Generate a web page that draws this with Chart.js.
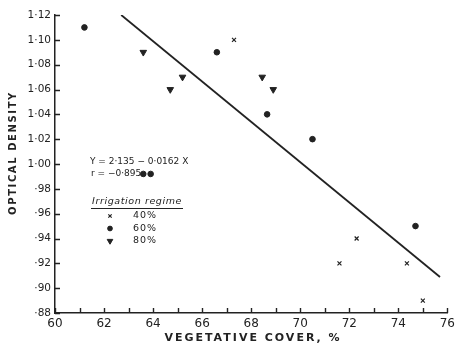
<!DOCTYPE html>
<html><head><meta charset="utf-8">
<script src="https://cdn.jsdelivr.net/npm/chart.js@4"></script>
<style>html,body{margin:0;padding:0;background:#fff}#wrap{width:459px;height:349px}</style>
</head><body><div id="wrap"><canvas id="c" width="459" height="349"></canvas></div>
<script>
// Data
const x40 = [67.3, 72.3, 71.6, 74.35, 75.0];
const y40 = [1.10, 0.94, 0.92, 0.92, 0.89];
const x60 = [61.2, 66.6, 68.65, 70.5, 63.6, 63.9, 74.7];
const y60 = [1.11, 1.09, 1.04, 1.02, 0.992, 0.992, 0.95];
const x80 = [63.6, 64.7, 65.2, 68.45, 68.9];
const y80 = [1.09, 1.06, 1.07, 1.07, 1.06];
const lineX = [62.7, 75.7];
const lineY = [1.12, 0.909];
const xTicks = [60,61,62,63,64,65,66,67,68,69,70,71,72,73,74,75,76];
const xTickLabels = ['60','','62','','64','','66','','68','','70','','72','','74','','76'];
const yTicks = [0.88,0.90,0.92,0.94,0.96,0.98,1.00,1.02,1.04,1.06,1.08,1.10,1.12];
const yTickLabels = ['·88','·90','·92','·94','·96','·98','1·00','1·02','1·04','1·06','1·08','1·10','1·12'];
const eqText = 'Y = 2·135 − 0·0162 X';
const rText = 'r = −0·895';
const legendTitle = 'Irrigation regime';
const legendLabels = ['40%','60%','80%'];

const INK = '#222';
const pts = (xs, ys) => xs.map((x,i)=>({x, y: ys[i]}));

const styles = [
  {pointStyle:'crossRot', radius:2.8, rotation:0, borderWidth:1.2},
  {pointStyle:'circle', radius:2.8, rotation:0, borderWidth:1},
  {pointStyle:'triangle', radius:3.8, rotation:180, borderWidth:1}
];

const decor = {
  id:'decor',
  afterDraw(chart){
    const ctx = chart.ctx, xs = chart.scales.x, ys = chart.scales.y;
    const a = chart.chartArea;
    ctx.save();
    ctx.strokeStyle = INK; ctx.lineWidth = 1.4;
    // inward ticks
    ctx.beginPath();
    xTicks.forEach(v=>{ const p = Math.round(xs.getPixelForValue(v))+0.5; ctx.moveTo(p, a.bottom); ctx.lineTo(p, a.bottom-5); });
    yTicks.forEach(v=>{ const p = Math.round(ys.getPixelForValue(v))+0.5; ctx.moveTo(a.left, p); ctx.lineTo(a.left+5, p); });
    ctx.stroke();
    // axis titles
    ctx.fillStyle = INK;
    ctx.textBaseline = 'middle';
    ctx.textAlign = 'center';
    ctx.font = 'bold 11px "DejaVu Sans"';
    ctx.letterSpacing = '2px';
    ctx.fillText('VEGETATIVE COVER, %', 253, 338);
    ctx.save();
    ctx.translate(13, 153);
    ctx.rotate(-Math.PI/2);
    ctx.font = 'bold 10px "DejaVu Sans"';
    ctx.letterSpacing = '1.6px';
    ctx.fillText('OPTICAL DENSITY', 0, 0);
    ctx.restore();
    // equation
    ctx.letterSpacing = '0px';
    ctx.textAlign = 'left';
    ctx.font = '9px "DejaVu Sans"';
    ctx.fillText(eqText, 90, 162);
    ctx.fillText(rText, 91, 174);
    // legend
    ctx.font = 'italic 9.5px "DejaVu Sans"';
    ctx.letterSpacing = '0.6px';
    ctx.fillText(legendTitle, 92, 202);
    ctx.beginPath(); ctx.lineWidth = 1; ctx.moveTo(91, 208.5); ctx.lineTo(183, 208.5); ctx.stroke();
    ctx.font = '9.5px "DejaVu Sans"';
    ctx.letterSpacing = '1px';
    legendLabels.forEach((lab, i)=>{
      const yy = 216 + i*12.5;
      const s = styles[i];
      ctx.fillStyle = INK; ctx.strokeStyle = INK; ctx.lineWidth = s.borderWidth;
      Chart.helpers.drawPoint(ctx, {pointStyle:s.pointStyle, radius:s.radius*0.85, rotation:s.rotation, borderWidth:s.borderWidth}, 110, yy);
      ctx.fillText(lab, 133, yy);
    });
    ctx.restore();
  }
};

new Chart(document.getElementById('c'), {
  type:'scatter',
  data:{datasets:[
    {label:'40%', data:pts(x40,y40), pointStyle:'crossRot', pointRadius:2.8, borderColor:INK, backgroundColor:INK, pointBorderWidth:1.2},
    {label:'60%', data:pts(x60,y60), pointStyle:'circle', pointRadius:2.8, borderColor:INK, backgroundColor:INK},
    {label:'80%', data:pts(x80,y80), pointStyle:'triangle', pointRotation:180, pointRadius:3.8, borderColor:INK, backgroundColor:INK},
    {label:'fit', type:'line', data:pts(lineX,lineY), borderColor:INK, borderWidth:1.8, pointRadius:0, showLine:true, fill:false}
  ]},
  options:{
    responsive:false, animation:false, devicePixelRatio:1,
    layout:{padding:{top:15, right:5, left:0, bottom:0}},
    plugins:{legend:{display:false}, tooltip:{enabled:false}},
    scales:{
      x:{type:'linear', min:60, max:76,
        afterBuildTicks(s){ s.ticks = xTicks.map(v=>({value:v})); },
        afterFit(s){ s.height = 36; },
        grid:{display:false, drawTicks:false},
        border:{display:true, color:INK, width:1.5},
        ticks:{padding:4, color:INK, font:{family:'DejaVu Sans', size:12}, maxRotation:0, autoSkip:false,
          callback:(v,i)=>xTickLabels[i]}
      },
      y:{type:'linear', min:0.88, max:1.12,
        afterBuildTicks(s){ s.ticks = yTicks.map(v=>({value:v})); },
        afterFit(s){ s.width = 55; },
        grid:{display:false, drawTicks:false},
        border:{display:true, color:INK, width:1.5},
        ticks:{padding:4, color:INK, font:{family:'DejaVu Sans', size:10.5}, autoSkip:false,
          callback:(v,i)=>yTickLabels[i]}
      }
    }
  },
  plugins:[decor]
});
</script></body></html>
